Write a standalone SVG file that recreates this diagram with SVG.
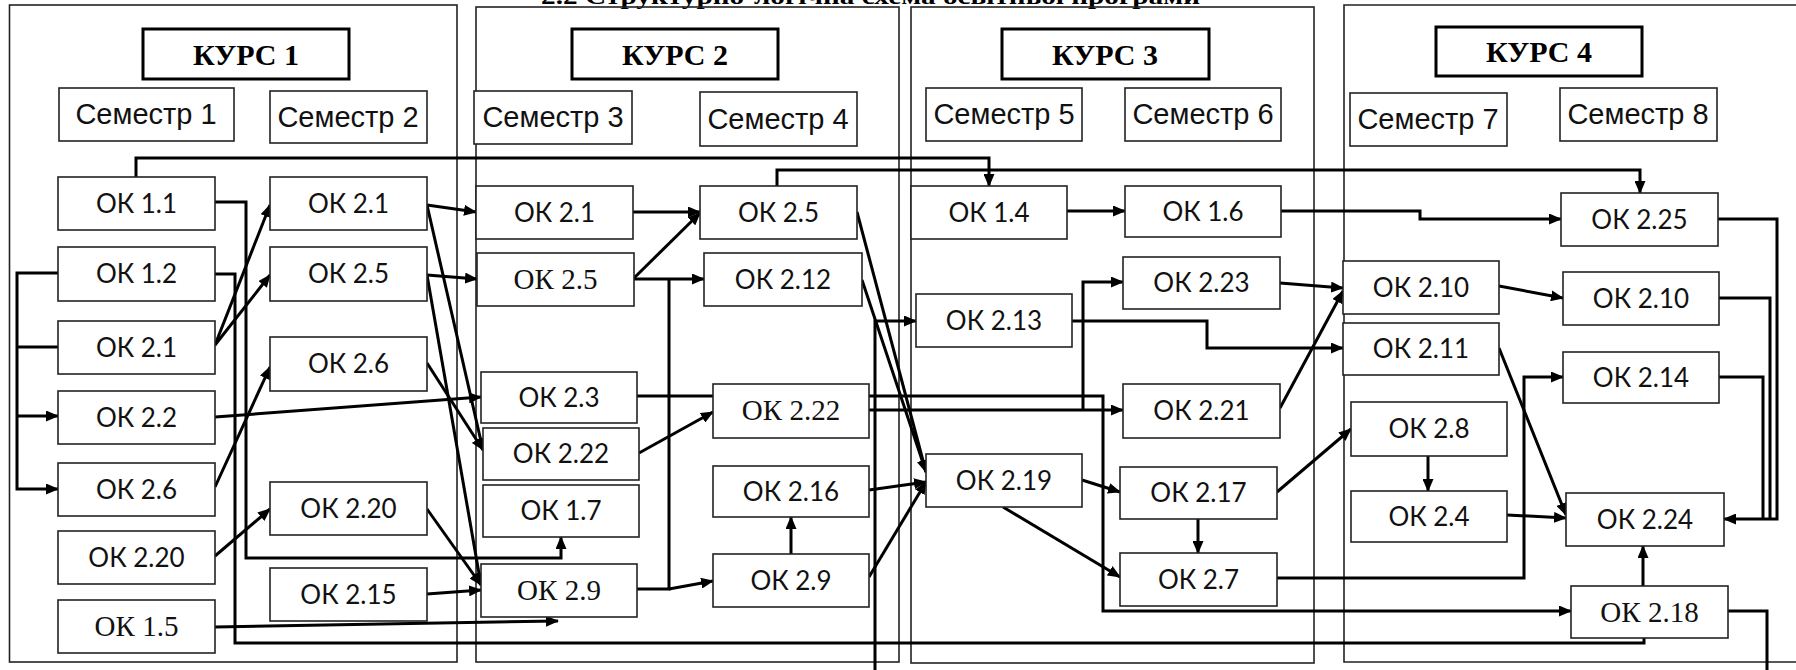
<svg xmlns="http://www.w3.org/2000/svg" width="1796" height="670" viewBox="0 0 1796 670">
<style>
.frame{fill:none;stroke:#222;stroke-width:1.6}
.kurs{fill:#fff;stroke:#000;stroke-width:3}
.box{fill:#fff;stroke:#222;stroke-width:1.6}
.kt{font-family:"Liberation Serif",serif;font-weight:bold;font-size:30px;fill:#000;text-anchor:middle}
.st{font-family:"Liberation Sans",Arial,sans-serif;font-size:29px;fill:#111;text-anchor:middle}
.ok{font-family:Lato,"Open Sans",sans-serif;font-size:26px;fill:#111;text-anchor:middle}
.oks{font-family:"Liberation Serif",serif;font-size:29px;fill:#111;text-anchor:middle}
.title{font-family:"Liberation Serif",serif;font-weight:bold;font-size:24px;fill:#000}
.c{fill:none;stroke:#000;stroke-width:3}
</style>
<defs>
<marker id="ar" markerUnits="userSpaceOnUse" markerWidth="13" markerHeight="11" refX="12" refY="5.5" orient="auto">
<path d="M0,0 L13,5.5 L0,11 z" fill="#000"/>
</marker>
</defs>

<text class="title" x="541" y="4" textLength="659" lengthAdjust="spacingAndGlyphs">2.2 Структурно-логічна схема освітньої програми</text>

<g id="course1">
<rect class="frame" x="9.5" y="5" width="447.5" height="657"/>
<rect class="kurs" x="143" y="29" width="206" height="50"/><text class="kt" x="246" y="65">КУРС 1</text>
<rect class="box" x="59" y="88" width="175" height="53"/><text class="st" x="146" y="124">Семестр 1</text>
<rect class="box" x="270" y="91" width="157" height="52"/><text class="st" x="348" y="127">Семестр 2</text>
</g>
<g id="course2">
<rect class="frame" x="476" y="7" width="423" height="655"/>
<rect class="kurs" x="572" y="29" width="206" height="50"/><text class="kt" x="675" y="65">КУРС 2</text>
<rect class="box" x="474" y="91" width="158" height="53"/><text class="st" x="553" y="127">Семестр 3</text>
<rect class="box" x="700" y="92" width="157" height="54"/><text class="st" x="778" y="129">Семестр 4</text>
</g>
<g id="course3">
<rect class="frame" x="911" y="7" width="403" height="656"/>
<rect class="kurs" x="1002" y="29" width="207" height="50"/><text class="kt" x="1105" y="65">КУРС 3</text>
<rect class="box" x="926" y="88" width="156" height="53"/><text class="st" x="1004" y="124">Семестр 5</text>
<rect class="box" x="1125" y="88" width="156" height="53"/><text class="st" x="1203" y="124">Семестр 6</text>
</g>
<g id="course4">
<path class="frame" d="M1800,5 H1344 V662 H1800"/>
<rect class="kurs" x="1436" y="27" width="206" height="49"/><text class="kt" x="1539" y="62">КУРС 4</text>
<rect class="box" x="1350" y="93" width="157" height="53"/><text class="st" x="1428" y="129">Семестр 7</text>
<rect class="box" x="1560" y="88" width="157" height="53"/><text class="st" x="1638" y="124">Семестр 8</text>
</g>

<g id="connectors">
<path class="c" d="M136,177 V158 H989 V186" marker-end="url(#ar)"/>
<path class="c" d="M777,186 V170 H1640 V193" marker-end="url(#ar)"/>
<path class="c" d="M215,202 H246 V558 H561 V537" marker-end="url(#ar)"/>
<path class="c" d="M215,274 H235 V643 H1644 V638"/>
<path class="c" d="M58,273 H17 V489 H58" marker-end="url(#ar)"/>
<path class="c" d="M17,347 H58"/>
<path class="c" d="M17,416 H58" marker-end="url(#ar)"/>
<path class="c" d="M215,345 L270,205" marker-end="url(#ar)"/>
<path class="c" d="M215,345 L270,275" marker-end="url(#ar)"/>
<path class="c" d="M215,417 L481,397" marker-end="url(#ar)"/>
<path class="c" d="M215,487 L270,367" marker-end="url(#ar)"/>
<path class="c" d="M215,556 L270,509" marker-end="url(#ar)"/>
<path class="c" d="M215,627 L558,621" marker-end="url(#ar)"/>
<path class="c" d="M427,205 L476,212" marker-end="url(#ar)"/>
<path class="c" d="M427,275 L477,279" marker-end="url(#ar)"/>
<path class="c" d="M427,205 L483,450" marker-end="url(#ar)"/>
<path class="c" d="M427,363 L483,450" marker-end="url(#ar)"/>
<path class="c" d="M427,275 L481,585" marker-end="url(#ar)"/>
<path class="c" d="M427,509 L481,585" marker-end="url(#ar)"/>
<path class="c" d="M427,594 L481,590" marker-end="url(#ar)"/>
<path class="c" d="M633,212 H700" marker-end="url(#ar)"/>
<path class="c" d="M634,278 L700,213" marker-end="url(#ar)"/>
<path class="c" d="M634,279 H704" marker-end="url(#ar)"/>
<path class="c" d="M637,589 H669 V279"/>
<path class="c" d="M669,589 L713,581" marker-end="url(#ar)"/>
<path class="c" d="M639,453 L713,412" marker-end="url(#ar)"/>
<path class="c" d="M791,554 V517" marker-end="url(#ar)"/>
<path class="c" d="M637,396 H1103 V611 H1571" marker-end="url(#ar)"/>
<path class="c" d="M869,410 H1123" marker-end="url(#ar)"/>
<path class="c" d="M1083,410 V282 H1123" marker-end="url(#ar)"/>
<path class="c" d="M1072,321 H1207 V348 H1343" marker-end="url(#ar)"/>
<path class="c" d="M875,672 V321 H916" marker-end="url(#ar)"/>
<path class="c" d="M857,212 L926,472" marker-end="url(#ar)"/>
<path class="c" d="M862,280 L926,472" marker-end="url(#ar)"/>
<path class="c" d="M869,490 L926,482" marker-end="url(#ar)"/>
<path class="c" d="M869,577 L926,482" marker-end="url(#ar)"/>
<path class="c" d="M1082,480 L1120,492" marker-end="url(#ar)"/>
<path class="c" d="M1003,507 L1120,577" marker-end="url(#ar)"/>
<path class="c" d="M1198,519 V553" marker-end="url(#ar)"/>
<path class="c" d="M1277,492 L1351,429" marker-end="url(#ar)"/>
<path class="c" d="M1280,408 L1343,291" marker-end="url(#ar)"/>
<path class="c" d="M1280,283 L1343,288" marker-end="url(#ar)"/>
<path class="c" d="M1067,211 H1125" marker-end="url(#ar)"/>
<path class="c" d="M1281,211 H1420 V219 H1561" marker-end="url(#ar)"/>
<path class="c" d="M1499,286 L1563,298" marker-end="url(#ar)"/>
<path class="c" d="M1718,219 H1777 V519 H1724" marker-end="url(#ar)"/>
<path class="c" d="M1719,298 H1770 V519"/>
<path class="c" d="M1719,377 H1763 V519"/>
<path class="c" d="M1499,348 L1566,515" marker-end="url(#ar)"/>
<path class="c" d="M1428,456 V491" marker-end="url(#ar)"/>
<path class="c" d="M1507,515 L1566,518" marker-end="url(#ar)"/>
<path class="c" d="M1277,578 H1524 V377 H1563" marker-end="url(#ar)"/>
<path class="c" d="M1643,586 V546" marker-end="url(#ar)"/>
<path class="c" d="M1728,611 H1767 V672"/>
</g>

<g id="n-1-1"><rect class="box" x="58" y="177" width="157" height="53"/><text class="ok" x="136.5" y="213">ОК 1.1</text></g>
<g id="n-1-2"><rect class="box" x="58" y="247" width="157" height="54"/><text class="ok" x="136.5" y="283">ОК 1.2</text></g>
<g id="n-s1-2-1"><rect class="box" x="58" y="321" width="157" height="53"/><text class="ok" x="136.5" y="357">ОК 2.1</text></g>
<g id="n-s1-2-2"><rect class="box" x="58" y="391" width="157" height="53"/><text class="ok" x="136.5" y="427">ОК 2.2</text></g>
<g id="n-s1-2-6"><rect class="box" x="58" y="463" width="157" height="53"/><text class="ok" x="136.5" y="499">ОК 2.6</text></g>
<g id="n-s1-2-20"><rect class="box" x="58" y="531" width="157" height="53"/><text class="ok" x="136.5" y="567">ОК 2.20</text></g>
<g id="n-1-5"><rect class="box" x="58" y="600" width="157" height="53"/><text class="oks" x="136.5" y="636">ОК 1.5</text></g>

<g id="n-s2-2-1"><rect class="box" x="270" y="177" width="157" height="53"/><text class="ok" x="348.5" y="213">ОК 2.1</text></g>
<g id="n-s2-2-5"><rect class="box" x="270" y="247" width="157" height="54"/><text class="ok" x="348.5" y="283">ОК 2.5</text></g>
<g id="n-s2-2-6"><rect class="box" x="270" y="337" width="157" height="54"/><text class="ok" x="348.5" y="373">ОК 2.6</text></g>
<g id="n-s2-2-20"><rect class="box" x="270" y="482" width="157" height="53"/><text class="ok" x="348.5" y="518">ОК 2.20</text></g>
<g id="n-s2-2-15"><rect class="box" x="270" y="568" width="157" height="53"/><text class="ok" x="348.5" y="604">ОК 2.15</text></g>

<g id="n-s3-2-1"><rect class="box" x="476" y="186" width="157" height="53"/><text class="ok" x="554.5" y="222">ОК 2.1</text></g>
<g id="n-s3-2-5"><rect class="box" x="477" y="253" width="157" height="53"/><text class="oks" x="555.5" y="289">ОК 2.5</text></g>
<g id="n-s3-2-3"><rect class="box" x="481" y="372" width="156" height="51"/><text class="ok" x="559" y="407">ОК 2.3</text></g>
<g id="n-s3-2-22"><rect class="box" x="483" y="428" width="156" height="52"/><text class="ok" x="561" y="463">ОК 2.22</text></g>
<g id="n-s3-1-7"><rect class="box" x="483" y="485" width="156" height="52"/><text class="ok" x="561" y="520">ОК 1.7</text></g>
<g id="n-s3-2-9"><rect class="box" x="481" y="564" width="156" height="53"/><text class="oks" x="559" y="600">ОК 2.9</text></g>

<g id="n-s4-2-5"><rect class="box" x="700" y="186" width="157" height="53"/><text class="ok" x="778.5" y="222">ОК 2.5</text></g>
<g id="n-s4-2-12"><rect class="box" x="704" y="253" width="158" height="53"/><text class="ok" x="783" y="289">ОК 2.12</text></g>
<g id="n-s4-2-22"><rect class="box" x="713" y="384" width="156" height="54"/><text class="oks" x="791" y="420">ОК 2.22</text></g>
<g id="n-s4-2-16"><rect class="box" x="713" y="466" width="156" height="51"/><text class="ok" x="791" y="501">ОК 2.16</text></g>
<g id="n-s4-2-9"><rect class="box" x="713" y="554" width="156" height="53"/><text class="ok" x="791" y="590">ОК 2.9</text></g>

<g id="n-s5-1-4"><rect class="box" x="911" y="186" width="156" height="53"/><text class="ok" x="989" y="222">ОК 1.4</text></g>
<g id="n-s5-2-13"><rect class="box" x="916" y="294" width="156" height="53"/><text class="ok" x="994" y="330">ОК 2.13</text></g>
<g id="n-s5-2-19"><rect class="box" x="926" y="454" width="156" height="53"/><text class="ok" x="1004" y="490">ОК 2.19</text></g>

<g id="n-s6-1-6"><rect class="box" x="1125" y="186" width="156" height="51"/><text class="ok" x="1203" y="221">ОК 1.6</text></g>
<g id="n-s6-2-23"><rect class="box" x="1123" y="257" width="157" height="52"/><text class="ok" x="1201.5" y="292">ОК 2.23</text></g>
<g id="n-s6-2-21"><rect class="box" x="1123" y="384" width="157" height="54"/><text class="ok" x="1201.5" y="420">ОК 2.21</text></g>
<g id="n-s6-2-17"><rect class="box" x="1120" y="467" width="157" height="52"/><text class="ok" x="1198.5" y="502">ОК 2.17</text></g>
<g id="n-s6-2-7"><rect class="box" x="1120" y="553" width="157" height="53"/><text class="ok" x="1198.5" y="589">ОК 2.7</text></g>

<g id="n-s7-2-10"><rect class="box" x="1343" y="261" width="156" height="53"/><text class="ok" x="1421" y="297">ОК 2.10</text></g>
<g id="n-s7-2-11"><rect class="box" x="1343" y="323" width="156" height="52"/><text class="ok" x="1421" y="358">ОК 2.11</text></g>
<g id="n-s7-2-8"><rect class="box" x="1351" y="402" width="156" height="54"/><text class="ok" x="1429" y="438">ОК 2.8</text></g>
<g id="n-s7-2-4"><rect class="box" x="1351" y="491" width="156" height="51"/><text class="ok" x="1429" y="526">ОК 2.4</text></g>

<g id="n-s8-2-25"><rect class="box" x="1561" y="193" width="157" height="53"/><text class="ok" x="1639.5" y="229">ОК 2.25</text></g>
<g id="n-s8-2-10"><rect class="box" x="1563" y="272" width="156" height="53"/><text class="ok" x="1641" y="308">ОК 2.10</text></g>
<g id="n-s8-2-14"><rect class="box" x="1563" y="352" width="156" height="51"/><text class="ok" x="1641" y="387">ОК 2.14</text></g>
<g id="n-s8-2-24"><rect class="box" x="1566" y="493" width="158" height="53"/><text class="ok" x="1645" y="529">ОК 2.24</text></g>
<g id="n-s8-2-18"><rect class="box" x="1571" y="586" width="157" height="52"/><text class="oks" x="1649.5" y="622">ОК 2.18</text></g>
</svg>
